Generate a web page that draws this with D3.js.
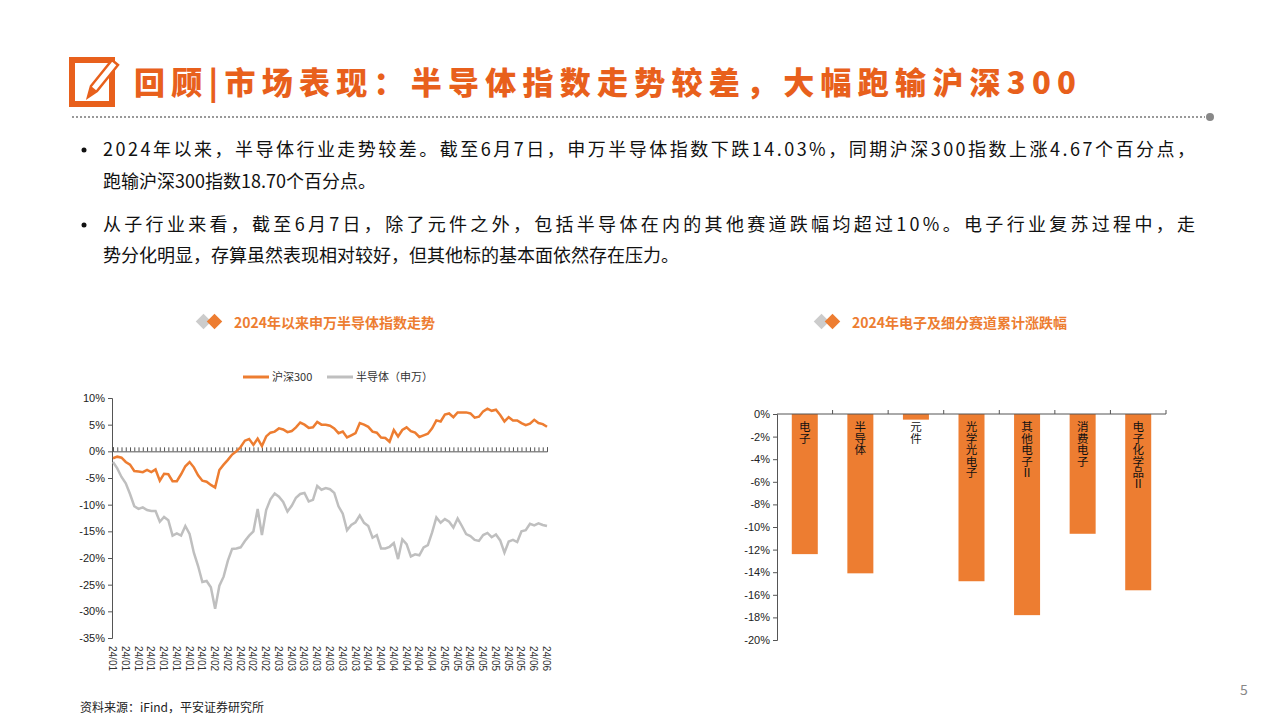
<!DOCTYPE html>
<html><head><meta charset="utf-8">
<script src="https://cdn.jsdelivr.net/npm/d3@7"></script>
<style>body{margin:0;background:#fff;font-family:"Noto Sans CJK SC","Noto Sans",sans-serif}</style>
</head><body><svg id="c" width="1280" height="720"></svg>
<script>
const hs300=[-1.3,-1.0,-1.2,-2.0,-2.5,-3.7,-3.8,-3.9,-3.5,-3.9,-3.4,-5.5,-4.2,-4.3,-5.6,-5.6,-4.3,-2.8,-2.0,-3.0,-4.5,-5.5,-5.7,-6.3,-6.8,-3.5,-2.5,-1.6,-0.6,0.0,0.8,2.0,2.3,1.2,2.4,1.0,2.8,3.5,3.7,4.3,4.1,3.6,3.8,4.5,5.4,5.0,4.4,4.5,5.5,5.0,5.0,4.8,4.3,3.4,3.7,2.6,3.0,3.4,5.3,5.0,4.6,3.7,3.5,2.6,2.5,1.8,4.0,2.8,4.0,4.5,3.8,3.5,2.7,3.0,3.3,4.3,5.8,5.6,6.9,7.1,6.4,7.3,7.3,7.3,7.1,6.3,6.5,7.5,8.0,7.6,7.8,6.8,5.6,6.4,5.8,5.8,5.3,4.9,5.2,5.9,5.3,5.1,4.6];
const semi=[-2.0,-3.2,-4.8,-6.0,-8.0,-10.3,-10.8,-10.5,-11.0,-11.2,-11.2,-13.2,-12.3,-12.9,-15.8,-15.4,-15.8,-14.0,-15.5,-19.0,-21.5,-24.5,-24.3,-25.5,-29.5,-25.2,-23.5,-20.5,-18.3,-18.2,-18.0,-16.8,-15.8,-15.0,-10.8,-15.7,-11.0,-9.0,-7.9,-8.5,-9.5,-11.3,-10.2,-8.7,-8.0,-7.8,-9.4,-9.1,-6.5,-7.2,-6.9,-7.1,-7.8,-10.3,-11.7,-14.8,-13.8,-13.3,-12.0,-13.4,-14.0,-16.2,-15.7,-18.2,-18.2,-17.9,-17.2,-20.2,-16.5,-17.4,-19.7,-19.3,-19.5,-18.0,-17.6,-15.2,-12.4,-13.4,-12.7,-13.2,-14.3,-12.6,-14.0,-15.5,-15.9,-16.6,-16.8,-15.7,-15.3,-16.1,-15.6,-16.7,-19.0,-16.9,-16.6,-17.0,-15.0,-14.8,-13.6,-13.9,-13.5,-13.8,-14.0];
const holidays=["2024-01-01","2024-02-09","2024-02-12","2024-02-13","2024-02-14","2024-02-15","2024-02-16","2024-04-04","2024-04-05","2024-05-01","2024-05-02","2024-05-03"];
const barCats=["电子","半导体","元件","光学光电子","其他电子Ⅱ","消费电子","电子化学品Ⅱ"];
const barVals=[-12.4,-14.1,-0.5,-14.8,-17.8,-10.6,-15.6];
const lineTicks=[10,5,0,-5,-10,-15,-20,-25,-30,-35];
const barTicks=[0,-2,-4,-6,-8,-10,-12,-14,-16,-18,-20];

const days=[];
for(let d=new Date(Date.UTC(2024,0,2));days.length<hs300.length;d.setUTCDate(d.getUTCDate()+1)){
  const w=d.getUTCDay(),s=d.toISOString().slice(0,10);
  if(w===0||w===6||holidays.includes(s))continue;
  days.push(s.slice(2,4)+"/"+s.slice(5,7));
}
const svg=d3.select("#c");
const OR="#ED7D31",GR="#BFBFBF",TO="#E8601C";
const ic=svg.append("g");
ic.append("rect").attr("x",72).attr("y",60).attr("width",40).attr("height",44).attr("fill","none").attr("stroke",TO).attr("stroke-width",6);
ic.append("path").attr("d","M88 97 L91 86 L112 60 L118 65 L97 91 Z").attr("fill","#fff").attr("stroke",TO).attr("stroke-width",2.5);
ic.append("path").attr("d","M88 97 L91 86 L97 91 Z").attr("fill",TO);
svg.append("text").attr("x",134).attr("y",94).attr("fill",TO).attr("font-size",31).attr("font-weight",900).attr("textLength",942).attr("lengthAdjust","spacing")
 .text("回顾|市场表现：半导体指数走势较差，大幅跑输沪深300");
svg.append("line").attr("x1",72).attr("x2",1205).attr("y1",117).attr("y2",117).attr("stroke","#999").attr("stroke-width",2).attr("stroke-dasharray","2,2");
svg.append("circle").attr("cx",1210).attr("cy",117).attr("r",4).attr("fill","#888");
const bl=[[150,"2024年以来，半导体行业走势较差。截至6月7日，申万半导体指数下跌14.03%，同期沪深300指数上涨4.67个百分点，",1092],[182,"跑输沪深300指数18.70个百分点。",0],[225,"从子行业来看，截至6月7日，除了元件之外，包括半导体在内的其他赛道跌幅均超过10%。电子行业复苏过程中，走",1092],[256,"势分化明显，存算虽然表现相对较好，但其他标的基本面依然存在压力。",0]];
bl.forEach(([y,t,L])=>{const e=svg.append("text").attr("x",103).attr("y",y+6).attr("font-size",18).attr("fill","#111").text(t);if(L)e.attr("textLength",L).attr("lengthAdjust","spacing");});
[150,225].forEach(y=>svg.append("circle").attr("cx",84).attr("cy",y).attr("r",2.5).attr("fill","#111"));
function subtitle(x,t){
  svg.append("rect").attr("x",x).attr("y",316).attr("width",11).attr("height",11).attr("fill","#ccc").attr("transform",`rotate(45,${x+5.5},321.5)`);
  svg.append("rect").attr("x",x+11).attr("y",316).attr("width",11).attr("height",11).attr("fill",OR).attr("transform",`rotate(45,${x+16.5},321.5)`);
  svg.append("text").attr("x",x+36).attr("y",328).attr("fill",OR).attr("font-size",14).attr("font-weight",700).text(t);
}
subtitle(198,"2024年以来申万半导体指数走势");
subtitle(816,"2024年电子及细分赛道累计涨跌幅");
svg.append("text").attr("x",80).attr("y",712).attr("font-size",12).attr("fill","#222").text("资料来源：iFind，平安证券研究所");
svg.append("text").attr("x",1240).attr("y",695).attr("font-size",14).attr("fill","#888").text("5");

const x=d3.scaleLinear().domain([0,days.length-1]).range([113,547]);
const y=d3.scaleLinear().domain([-35,10]).range([638,398]);
const ya=svg.append("g").attr("transform","translate(112,0)").call(d3.axisLeft(y).tickValues(lineTicks).tickSize(4).tickFormat(d=>d+"%"));
ya.selectAll("text").attr("font-size",11).attr("fill","#222").attr("font-family","Arial,Liberation Sans");
ya.select(".domain").attr("stroke","#555");ya.selectAll(".tick line").attr("stroke","#555");
const xa=svg.append("g").attr("transform",`translate(0,${y(0)})`).call(d3.axisTop(x).tickValues(d3.range(days.length)).tickSize(4).tickFormat(""));
xa.select(".domain").attr("stroke","#555");xa.selectAll(".tick line").attr("stroke","#555");
svg.append("g").selectAll("text").data(d3.range(0,days.length,3)).join("text")
 .attr("transform",i=>`translate(${x(i)-4},646) rotate(90)`).attr("font-size",10).attr("fill","#333").attr("font-family","Arial,Liberation Sans").text(i=>days[i]);
const ln=d3.line().x((d,i)=>x(i)).y(d=>y(d));
svg.append("path").datum(semi).attr("d",ln).attr("fill","none").attr("stroke",GR).attr("stroke-width",2.5);
svg.append("path").datum(hs300).attr("d",ln).attr("fill","none").attr("stroke",OR).attr("stroke-width",2.5);
[[243,OR,"沪深300"],[327,GR,"半导体（申万）"]].forEach(([lx,c,t])=>{
  svg.append("line").attr("x1",lx).attr("x2",lx+26).attr("y1",377).attr("y2",377).attr("stroke",c).attr("stroke-width",3);
  svg.append("text").attr("x",lx+29).attr("y",381).attr("font-size",11).attr("fill","#333").text(t);
});

const bx=d3.scaleBand().domain(barCats).range([777,1166]);
const by=d3.scaleLinear().domain([-20,0]).range([640,414]);
const bya=svg.append("g").attr("transform","translate(777,0)").call(d3.axisLeft(by).tickValues(barTicks).tickSize(4).tickFormat(d=>d+"%"));
bya.selectAll("text").attr("font-size",11).attr("fill","#222").attr("font-family","Arial,Liberation Sans");
bya.select(".domain").attr("stroke","#555");bya.selectAll(".tick line").attr("stroke","#555");
svg.append("g").selectAll("rect").data(barVals).join("rect")
 .attr("x",(d,i)=>bx(barCats[i])+bx.bandwidth()/2-13).attr("width",26).attr("y",by(0)).attr("height",d=>by(d)-by(0)).attr("fill",OR);
svg.append("line").attr("x1",777).attr("x2",1166).attr("y1",by(0)).attr("y2",by(0)).attr("stroke","#555");
svg.append("g").selectAll("line").data(barCats).join("line").attr("x1",d=>bx(d)+bx.bandwidth()).attr("x2",d=>bx(d)+bx.bandwidth()).attr("y1",by(0)).attr("y2",by(0)-4).attr("stroke","#555");
svg.append("g").selectAll("text").data(barCats).join("text")
 .attr("x",d=>bx(d)+bx.bandwidth()/2).attr("y",by(0)+7).attr("font-size",11.5).attr("fill","#111")
 .style("writing-mode","vertical-rl").style("text-orientation","upright").text(d=>d);
</script></body></html>
